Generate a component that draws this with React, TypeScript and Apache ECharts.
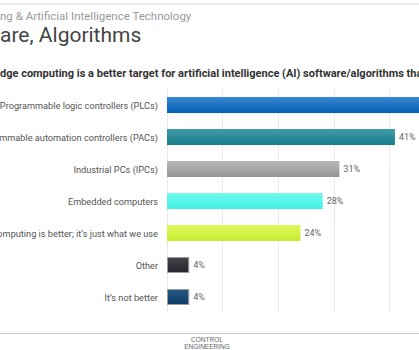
import React, { useEffect, useRef } from "react";
import * as echarts from "echarts";

const categories = [
  "Programmable logic controllers (PLCs)",
  "mmable automation controllers (PACs)",
  "Industrial PCs (IPCs)",
  "Embedded computers",
  "omputing is better; it\u2019s just what we use",
  "Other",
  "It\u2019s not better",
];
const values = [53, 41, 31, 28, 24, 4, 4];
const gradientTop = ["#3a86d2", "#3c9ba6", "#b8b8b8", "#72faf0", "#def75e", "#45434b", "#285983"];
const gradientBottom = ["#0060b4", "#1a7d8a", "#959595", "#3ff0e2", "#c6ed2e", "#27252d", "#0b3c69"];
const xTicks = [0, 10, 20, 30, 40, 50, 60, 70, 80, 90, 100];

const titleLine1 = "ng & Artificial Intelligence Technology";
const titleLine2 = "are, Algorithms";
const question = "dge computing is a better target for artificial intelligence (AI) software/algorithms tha";

export default function App() {
  const ref = useRef<HTMLDivElement>(null);
  useEffect(() => {
    if (!ref.current) return;
    const chart = echarts.init(ref.current, null, { renderer: "svg" });
    const data = values.map((v, i) => ({
      value: v,
      label: { show: i !== 0 },
      itemStyle: {
        color: new echarts.graphic.LinearGradient(0, 0, 0, 1, [
          { offset: 0, color: gradientTop[i] },
          { offset: 1, color: gradientBottom[i] },
        ]),
        borderColor: i >= 5 ? "#9a9a9a" : "transparent",
        borderWidth: i >= 5 ? 1 : 0,
      },
    }));
    chart.setOption({
      animation: false,
      textStyle: { fontFamily: "Roboto" },
      grid: {
        left: 167,
        top: 89,
        height: 224,
        width: 556,
        containLabel: false,
        outerBoundsMode: "none",
      },
      xAxis: {
        type: "value",
        min: xTicks[0],
        max: xTicks[xTicks.length - 1],
        interval: 10,
        axisLabel: { show: false },
        axisLine: { show: false },
        axisTick: { show: false },
        splitLine: { show: true, lineStyle: { color: "#e9e9e9", width: 1 } },
      },
      yAxis: {
        type: "category",
        inverse: true,
        data: categories,
        axisLine: { show: false },
        axisTick: { show: false },
        axisLabel: {
          color: "#555",
          fontSize: 9.2,
          fontFamily: "Roboto",
          margin: 9,
        },
      },
      series: [
        {
          type: "bar",
          data,
          barWidth: 16,
          label: {
            show: true,
            position: "right",
            distance: 4,
            formatter: "{c}%",
            color: "#666",
            fontSize: 9,
            fontFamily: "Roboto",
          },
        },
      ],
      graphic: [
        {
          type: "rect",
          shape: { x: 0, y: 3, width: 800, height: 2 },
          style: { fill: "#eeeeee" },
          silent: true,
        },
        {
          type: "text",
          x: 0,
          y: 16,
          style: {
            text: titleLine1,
            fill: "#9a9a9a",
            fontSize: 11.5,
            fontFamily: "Roboto",
            verticalAlign: "middle",
          },
        },
        {
          type: "text",
          x: 0,
          y: 35,
          style: {
            text: titleLine2,
            fill: "#444",
            fontSize: 21,
            fontFamily: "Roboto",
            verticalAlign: "middle",
          },
        },
        {
          type: "text",
          x: 0,
          y: 73,
          style: {
            text: question,
            fill: "#333",
            fontSize: 11,
            fontWeight: "bold",
            fontFamily: "Roboto",
            verticalAlign: "middle",
          },
        },
        {
          type: "line",
          shape: { x1: 0, y1: 333.5, x2: 800, y2: 333.5 },
          style: { stroke: "#cccccc", lineWidth: 1 },
        },
        {
          type: "text",
          x: 207,
          y: 339.5,
          style: {
            text: "CONTROL",
            fill: "#666",
            fontSize: 6.5,
            fontFamily: "Liberation Sans",
            align: "center",
            verticalAlign: "middle",
          },
        },
        {
          type: "text",
          x: 207,
          y: 346.5,
          style: {
            text: "ENGINEERING",
            fill: "#666",
            fontSize: 6.5,
            fontFamily: "Liberation Sans",
            align: "center",
            verticalAlign: "middle",
          },
        },
      ],
    });
    return () => chart.dispose();
  }, []);
  return (
    <div
      style={{
        position: "fixed",
        left: 0,
        top: 0,
        width: 419,
        height: 350,
        overflow: "hidden",
        background: "#fff",
      }}
    >
      <div ref={ref} style={{ width: 800, height: 350 }} />
    </div>
  );
}
